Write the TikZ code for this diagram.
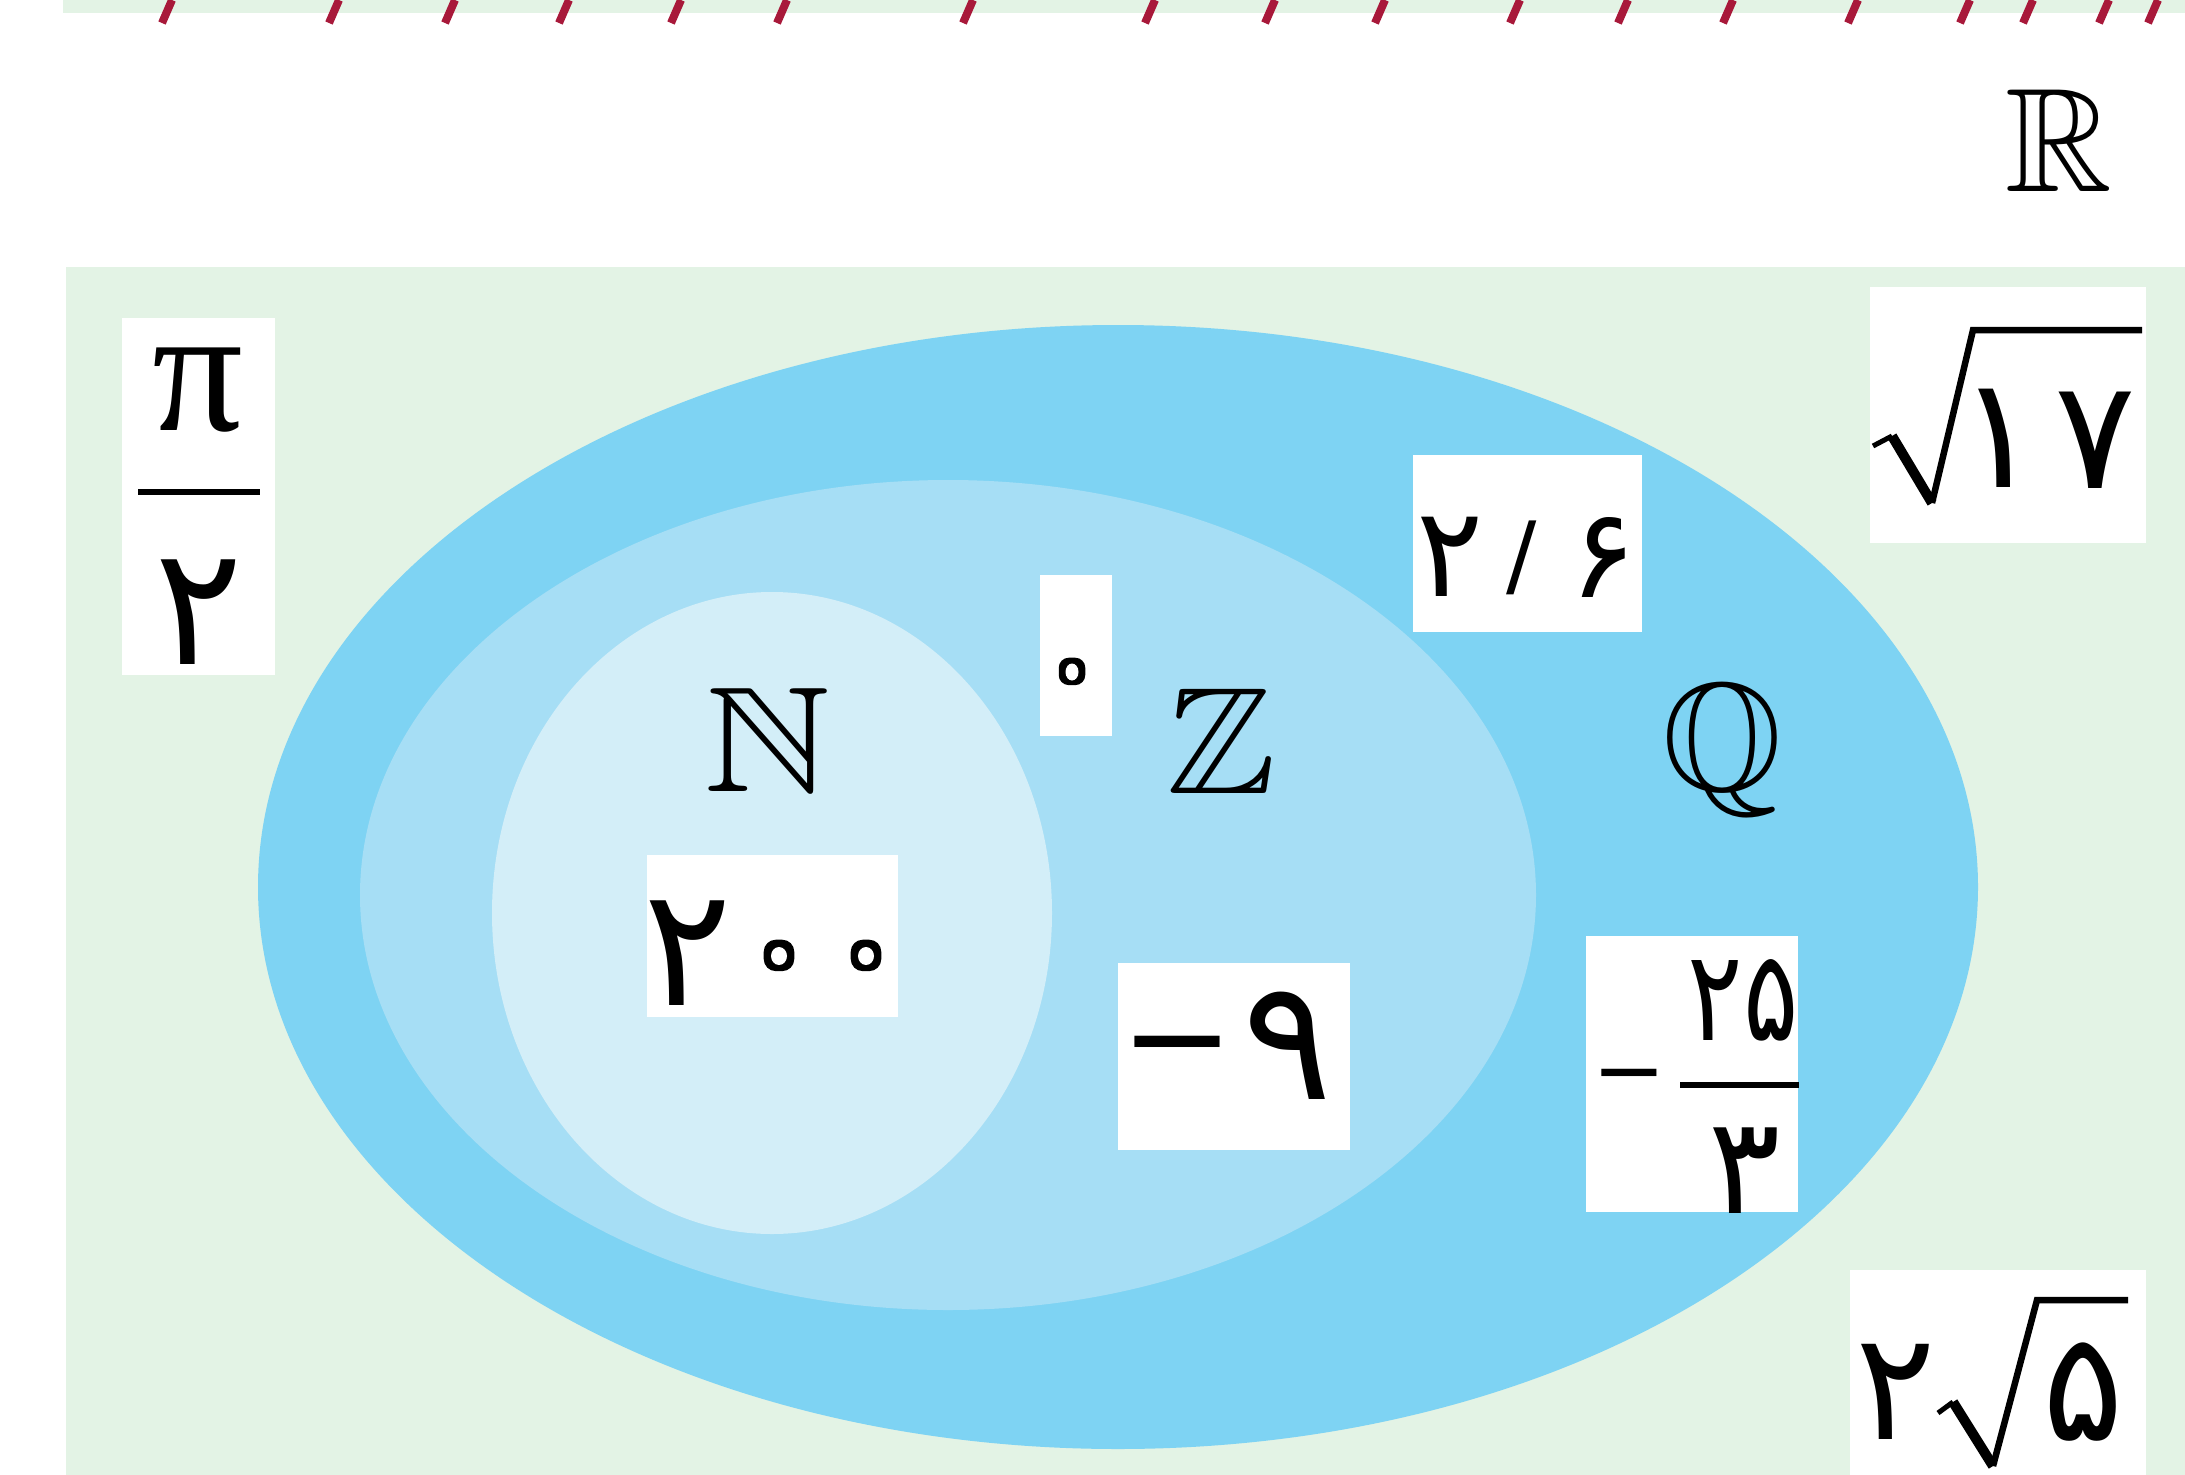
\documentclass[tikz,border=0pt]{standalone}
\usepackage{fontspec}
\usepackage{amssymb}
\usepackage{graphicx}
\newfontfamily\pfont{DejaVu Sans}
\newfontfamily\gfont{Liberation Serif}
\newcommand{\ringzero}[1]{\special{pdf:literal 2 Tr 1 j #1 w 0 G}۰\special{pdf:literal 0 Tr}}
\definecolor{bggreen}{HTML}{E3F3E5}
\definecolor{qblue}{HTML}{7ED3F3}
\definecolor{zblue}{HTML}{A6DEF5}
\definecolor{nblue}{HTML}{D3EEF8}
\definecolor{dashred}{HTML}{A8193A}
\tikzset{
  bbl/.style={inner sep=0pt, anchor=base},
  pd/.style={inner sep=0pt, font={\pfont\fontsize{#1}{#1}\selectfont}},
  gk/.style={inner sep=0pt, font={\gfont\fontsize{#1}{#1}\selectfont}},
  fbar/.style={line width=6.5pt},
  radtick/.style={line width=5pt},
  raddown/.style={line width=10pt},
  radup/.style={line width=6.5pt, line join=miter},
  wbox/.style={fill=white},
}
\begin{document}
\begin{tikzpicture}[x=1pt,y=-1pt]
\useasboundingbox (0,0) rectangle (2185,1475);
% top strip with slanted dashes
\fill[bggreen] (63,0) rectangle (2185,13);
\foreach \xx in {167,334,450,564,676,782,968,1150,1270,1380,1515,1623,1728,1853,1965,2028,2104,2153}
  \draw[dashred, line width=8pt] (\xx-5,23) -- (\xx+5,0);
% R label
\node[bbl] (R) at (2059,191) {\scalebox{14.8}{$\mathbb{R}$}};
% green universe
\fill[bggreen] (66,267) rectangle (2185,1475);
% ellipses
\fill[qblue] (1118,887) ellipse [x radius=860pt, y radius=562pt];
\fill[zblue] (948,895) ellipse [x radius=588pt, y radius=415pt];
\fill[nblue] (772,913) ellipse [x radius=280pt, y radius=321pt];
% set letters
\node[bbl] (N) at (768,791) {\scalebox{17.5}[15]{$\mathbb{N}$}};
\node[bbl] (Z) at (1221,793) {\scalebox{16.5}[15.2]{$\mathbb{Z}$}};
\node[bbl] (Q) at (1722,790) {\scalebox{15.4}{$\mathbb{Q}$}};
% white boxes
\fill[wbox] (122,318) rectangle (275,675);
\fill[wbox] (1040,575) rectangle (1112,736);
\fill[wbox] (1413,455) rectangle (1642,632);
\fill[wbox] (1870,287) rectangle (2146,543);
\fill[wbox] (647,855) rectangle (898,1017);
\fill[wbox] (1118,963) rectangle (1350,1150);
\fill[wbox] (1586,936) rectangle (1798,1212);
\fill[wbox] (1850,1270) rectangle (2146,1475);
% pi / 2
\node[gk=180] (pi) at (198,390) {π};
\coordinate (pibl) at (138,492);
\coordinate (pibr) at (260,492);
\draw[fbar] (pibl) -- (pibr);
\node[pd=165] (pitwo) at (199,612) {۲};
% zero
\node[pd=60] (zero) at (1072,678) {\ringzero{20}};
\fill[white] (1072,672) ellipse [x radius=6.5pt, y radius=8.5pt];
% 2/6
\node[pd=125] (dtwo) at (1450,557) {۲};
\node[pd=90] (dsl) at (1522,558) {/};
\node[pd=125] (dsix) at (1603,557) {۶};
% sqrt 17
\coordinate (ra1) at (1873,446);
\coordinate (ra2) at (1892,436);
\coordinate (ra3) at (1932,503);
\coordinate (ra4) at (1973,330);
\coordinate (ra5) at (2142,330);
\draw[radtick] (ra1) -- (ra2);
\draw[raddown] (ra2) -- (ra3);
\draw[radup] (ra3) -- (ra4) -- (ra5);
\node[pd=155] (sone) at (1999,438) {۱};
\node[pd=152] (sseven) at (2095,440) {۷};
% 200
\node[pd=165] (htwo) at (688,953) {۲};
\node[pd=60] (hz1) at (779,962) {\ringzero{24}};
\node[pd=60] (hz2) at (866,962) {\ringzero{24}};
\fill[white] (779,956) ellipse [x radius=8pt, y radius=9pt];
\fill[white] (866,956) ellipse [x radius=8pt, y radius=9pt];
% -9
\node[pd=136] (mminus) at (1177,1060) {−};
\node[pd=168] (nine) at (1288,1046) {۹};
% -25/3
\node[pd=88] (fminus) at (1629,1085) {−};
\coordinate (fbl) at (1680,1085);
\coordinate (fbr) at (1799,1085);
\draw[fbar] (fbl) -- (fbr);
\node[pd=126] (ftf) at (1743,1000) {\scalebox{0.82}[1]{۲۵}};
\node[pd=135] (fthree) at (1745,1171) {۳};
% 2 sqrt 5
\node[pd=150] (rtwo) at (1896,1392) {۲};
\coordinate (rb1) at (1938,1413);
\coordinate (rb2) at (1953,1402);
\coordinate (rb3) at (1993,1466);
\coordinate (rb4) at (2037,1300);
\coordinate (rb5) at (2128,1300);
\draw[radtick] (rb1) -- (rb2);
\draw[raddown] (rb2) -- (rb3);
\draw[radup] (rb3) -- (rb4) -- (rb5);
\node[pd=152] (rfive) at (2083,1392) {۵};
\end{tikzpicture}
\end{document}
